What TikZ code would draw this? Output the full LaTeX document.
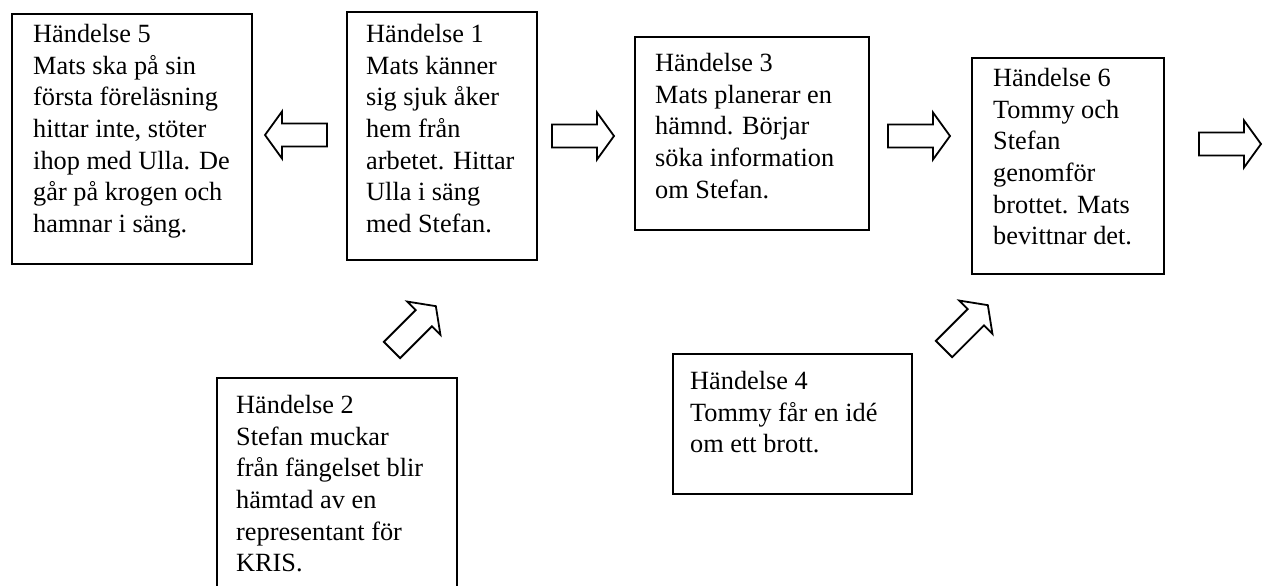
\documentclass[tikz,border=0pt]{standalone}
\usepackage{fontspec}
\setmainfont{Liberation Serif}
\begin{document}
\begin{tikzpicture}[x=1pt,y=-1pt,
  box/.style={draw=black,line width=1.8pt,rectangle,inner sep=0pt,anchor=north west},
  txt/.style={anchor=north west,inner sep=0pt,align=left,font=\fontsize{26.3}{31.7}\selectfont},
  arrowline/.style={draw=black,line width=1.8pt,line join=miter,fill=white},
  blockarr/.pic={\path[arrowline] (0,-11.5) -- (45,-11.5) -- (45,-23.5) -- (62,0) -- (45,23.5) -- (45,11.5) -- (0,11.5) -- cycle;}]
\useasboundingbox (0,0) rectangle (1269,586);
\clip (0,0) rectangle (1269,586);
% boxes
\node[box,minimum width=240pt,minimum height=250pt] (b5) at (11,13) {};
\node[box,minimum width=190pt,minimum height=248pt] (b1) at (346,11) {};
\node[box,minimum width=234pt,minimum height=193pt] (b3) at (634,36) {};
\node[box,minimum width=192pt,minimum height=216pt] (b6) at (971,57) {};
\node[box,minimum width=240pt,minimum height=240pt] (b2) at (216,377) {};
\node[box,minimum width=239pt,minimum height=140pt] (b4) at (672,353) {};
% texts
\node[txt] (t5) at (33,24) {Händelse 5\\Mats ska på sin\\första föreläsning\\hittar inte, stöter\\ihop med Ulla. De\\går på krogen och\\hamnar i säng.};
\node[txt] (t1) at (366,24) {Händelse 1\\Mats känner\\sig sjuk åker\\hem från\\arbetet. Hittar\\Ulla i säng\\med Stefan.};
\node[txt] (t3) at (655,53) {Händelse 3\\Mats planerar en\\hämnd. Börjar\\söka information\\om Stefan.};
\node[txt] (t6) at (993,68) {Händelse 6\\Tommy och\\Stefan\\genomför\\brottet. Mats\\bevittnar det.};
\node[txt] (t2) at (236,395) {Händelse 2\\Stefan muckar\\från fängelset blir\\hämtad av en\\representant för\\KRIS.};
\node[txt] (t4) at (690,371) {Händelse 4\\Tommy får en idé\\om ett brott.};
% block arrows
\pic[rotate=180] at (327,135) {blockarr};
\pic at (552,136) {blockarr};
\pic at (888,136) {blockarr};
\pic at (1199,144) {blockarr};
\pic[rotate=45] at (392,350) {blockarr};
\pic[rotate=45] at (944,349) {blockarr};
\end{tikzpicture}
\end{document}
